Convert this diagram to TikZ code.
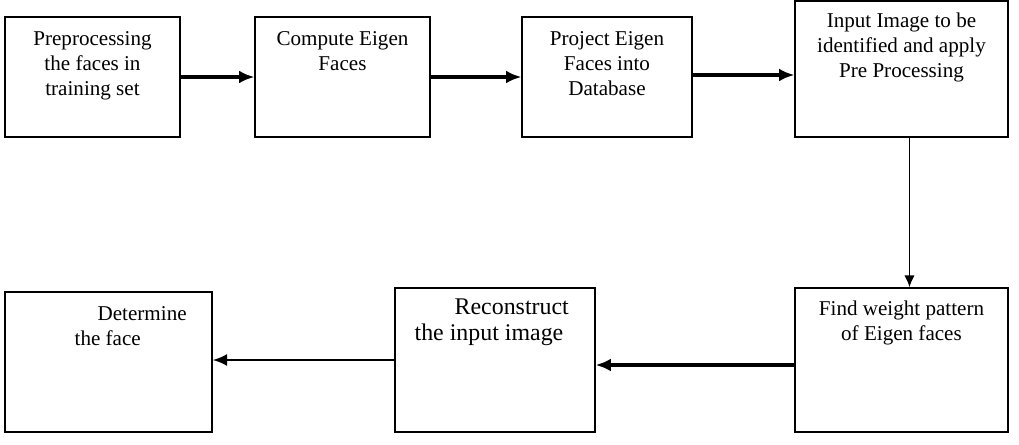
\documentclass[tikz,border=0pt]{standalone}
\usepackage{fontspec}
\setmainfont{Liberation Serif}
\usetikzlibrary{positioning,arrows.meta}

\tikzset{
  stage/.style={draw, line width=0.9pt, inner sep=0pt},
  caption/.style={font=\fontsize{15}{18}\selectfont, align=center, inner sep=0pt},
  flow/.style={-{Latex[length=0.38cm, width=0.32cm]}, line width=2.2pt},
}

\begin{document}
\begin{tikzpicture}
  \useasboundingbox (0,0) rectangle (25.475,11.1);

  % Training stages
  \node[stage, minimum width=4.375cm, minimum height=3cm] (pre) at (2.3125,9.175) {};
  \node[caption, below=0.36cm of pre.north] (preT) {Preprocessing\\the faces in\\training set};

  \node[stage, minimum width=4.375cm, minimum height=3cm] (eig) at (8.5625,9.175) {};
  \node[caption, below=0.36cm of eig.north] (eigT) {Compute Eigen\\Faces};

  \node[stage, minimum width=4.25cm, minimum height=3cm] (proj) at (15.175,9.175) {};
  \node[caption, below=0.36cm of proj.north] (projT) {Project Eigen\\Faces into\\Database};

  \node[stage, minimum width=5.325cm, minimum height=3.4cm] (inp) at (22.5375,9.375) {};
  \node[caption, below=0.3cm of inp.north] (inpT) {Input Image to be\\identified and apply\\Pre Processing};

  % Recognition stages
  \node[stage, minimum width=5.325cm, minimum height=3.6cm] (wgt) at (22.5375,2.1) {};
  \node[caption, below=0.325cm of wgt.north] (wgtT) {Find weight pattern\\of Eigen faces};

  \node[stage, minimum width=5cm, minimum height=3.6cm] (rec) at (12.375,2.1) {};
  \node[caption, font=\fontsize{17}{18}\selectfont, align=left, anchor=north west,
        below right=0.29cm and 0.5cm of rec.north west] (recT) {\hspace*{1cm}Reconstruct\\the input image};

  \node[stage, minimum width=5.175cm, minimum height=3.5cm] (det) at (2.7125,2.05) {};
  \node[caption, align=left, anchor=north west,
        below right=0.375cm and 1.75cm of det.north west] (detT) {\hspace*{0.575cm}Determine\\the face};

  % Connections
  \draw[flow] (pre.east) -- (eig.west);
  \draw[flow] (eig.east) -- (proj.west);
  \draw[flow] ([yshift=0.05cm]proj.east) -- ([yshift=0.05cm]proj.east -| inp.west);
  \draw[-{Latex[length=0.3cm, width=0.26cm]}, line width=1.3pt] ([xshift=0.2cm]inp.south) -- ([xshift=0.2cm]wgt.north);
  \draw[flow] ([yshift=-0.125cm]wgt.west) -- ([yshift=-0.125cm]wgt.west -| rec.east);
  \draw[-{Latex[length=0.36cm, width=0.3cm]}, line width=1.6pt] (rec.west) -- (rec.west -| det.east);

\end{tikzpicture}
\end{document}
